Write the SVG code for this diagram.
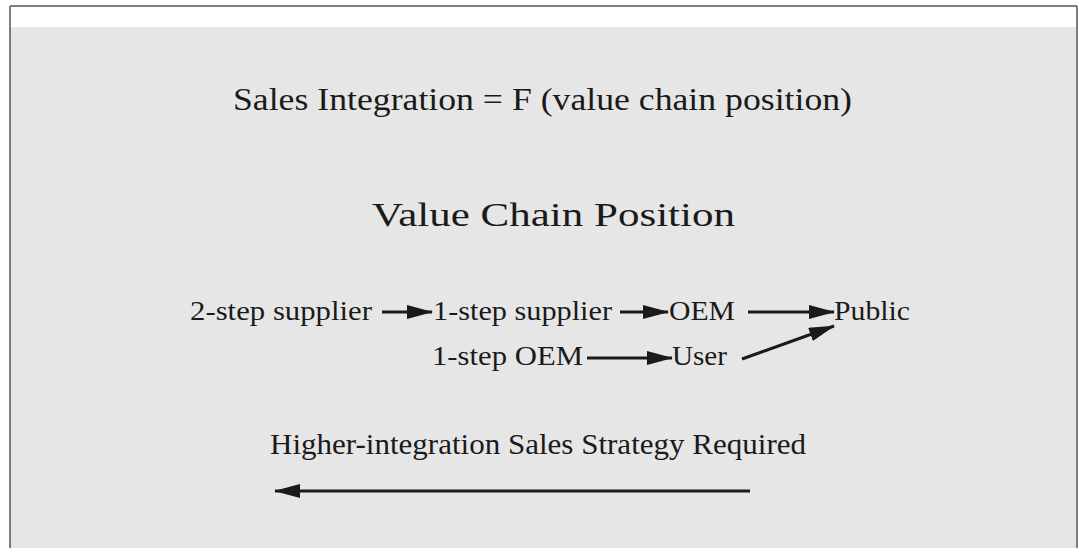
<svg xmlns="http://www.w3.org/2000/svg" width="1079" height="552" viewBox="0 0 1079 552">
<style>
text{font-family:"Liberation Serif","Times New Roman",serif;fill:#1a1a1a}
.c{stroke:#1a1a1a;stroke-width:3;fill:none}
</style>
<defs>
<marker id="ahb" markerWidth="26" markerHeight="14" refX="25" refY="7" orient="auto" markerUnits="userSpaceOnUse" viewBox="0 0 26 14">
<path d="M0,0 L26,7 L0,14 Z" fill="#1a1a1a"/>
</marker>
</defs>
<rect width="1079" height="552" fill="#ffffff"/>
<rect x="10" y="27" width="1066" height="521" fill="#e6e6e6"/>
<path d="M10,6 H1077 M10,6 V548 M1077,6 V548" stroke="#555" stroke-width="1.5" fill="none"/>
<g id="title"><text x="233" y="110" font-size="31" textLength="619" lengthAdjust="spacingAndGlyphs">Sales Integration = F (value chain position)</text></g>
<g id="vcp"><text x="372" y="226" font-size="34" textLength="363" lengthAdjust="spacingAndGlyphs">Value Chain Position</text></g>
<g id="n2step"><text x="190" y="320" font-size="28" textLength="182" lengthAdjust="spacingAndGlyphs">2-step supplier</text></g>
<g id="n1step"><text x="433" y="320" font-size="28" textLength="179" lengthAdjust="spacingAndGlyphs">1-step supplier</text></g>
<g id="oem"><text x="669" y="320" font-size="28" textLength="66" lengthAdjust="spacingAndGlyphs">OEM</text></g>
<g id="public"><text x="834" y="320" font-size="28" textLength="76" lengthAdjust="spacingAndGlyphs">Public</text></g>
<g id="n1oem"><text x="432" y="365" font-size="28" textLength="151" lengthAdjust="spacingAndGlyphs">1-step OEM</text></g>
<g id="user"><text x="672" y="365" font-size="28" textLength="55" lengthAdjust="spacingAndGlyphs">User</text></g>
<g id="higher"><text x="270" y="454" font-size="30" textLength="536" lengthAdjust="spacingAndGlyphs">Higher-integration Sales Strategy Required</text></g>
<g id="connectors">
<line class="c" x1="382" y1="312" x2="432" y2="312" marker-end="url(#ahb)"/>
<line class="c" x1="620" y1="312" x2="668" y2="312" marker-end="url(#ahb)"/>
<line class="c" x1="748" y1="312" x2="834" y2="312" marker-end="url(#ahb)"/>
<line class="c" x1="587" y1="358" x2="672" y2="358" marker-end="url(#ahb)"/>
<line class="c" x1="742" y1="359" x2="834" y2="326" marker-end="url(#ahb)"/>
<line class="c" x1="750" y1="491" x2="275" y2="491" marker-end="url(#ahb)"/>
</g>
</svg>
